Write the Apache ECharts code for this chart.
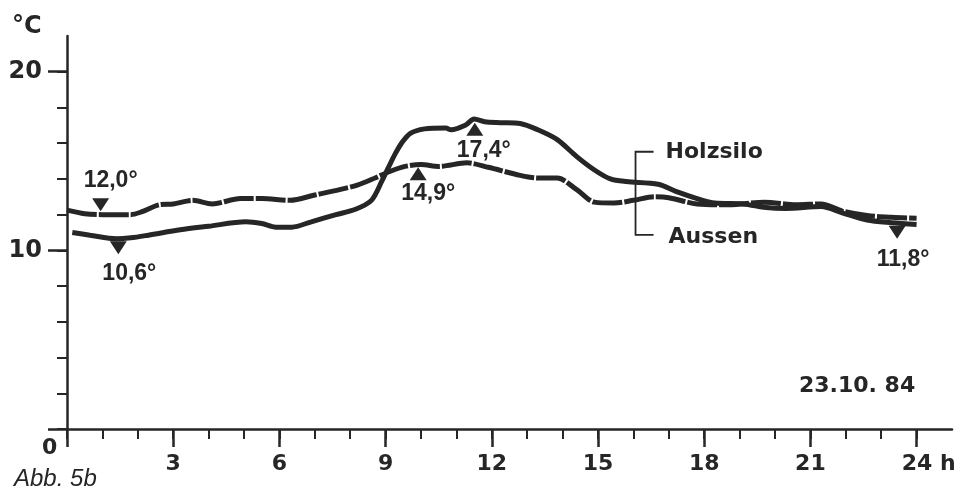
<!DOCTYPE html>
<html>
<head>
<meta charset="utf-8">
<script src="https://cdn.jsdelivr.net/npm/echarts@6/dist/echarts.min.js"></script>
<style>
  html, body { margin: 0; padding: 0; background: #fff; }
  #chart { width: 960px; height: 493px; }
</style>
</head>
<body>
<div id="chart"></div>
<script>
// Holzsilo (damped curve, drawn with small gaps)
const siloHours = [0.0, 0.5, 1.0, 1.8, 2.1, 2.6, 3.0, 3.55, 4.1, 4.9, 5.5, 6.3, 7.0, 7.7, 8.2, 8.7, 9.1, 9.55, 10.0, 10.5, 11.3, 11.9, 12.8, 13.3, 13.85, 14.4, 14.9, 15.45, 16.0, 16.6, 17.0, 17.8, 18.7, 19.7, 20.6, 21.3, 21.9, 22.6, 23.3, 24.0];
const siloTemps = [12.25, 12.05, 12.0, 12.0, 12.15, 12.55, 12.6, 12.8, 12.6, 12.9, 12.9, 12.8, 13.1, 13.4, 13.65, 14.05, 14.4, 14.7, 14.8, 14.7, 14.9, 14.65, 14.2, 14.05, 14.05, 13.4, 12.7, 12.65, 12.8, 13.0, 12.95, 12.6, 12.55, 12.7, 12.55, 12.6, 12.2, 11.95, 11.85, 11.8];

// Aussen (outside air)
const aussenHours = [0.15, 0.65, 1.4, 1.8, 2.3, 3.2, 4.0, 5.05, 5.5, 5.9, 6.35, 6.9, 7.6, 8.15, 8.6, 8.9, 9.07, 9.27, 9.45, 9.7, 10.1, 10.7, 10.85, 11.25, 11.5, 11.8, 12.25, 12.8, 13.3, 13.85, 14.4, 14.9, 15.35, 15.8, 16.7, 17.2, 17.8, 18.3, 19.1, 19.75, 20.3, 21.3, 21.9, 22.6, 23.3, 24.0];
const aussenTemps = [11.0, 10.85, 10.65, 10.7, 10.85, 11.15, 11.35, 11.6, 11.5, 11.3, 11.3, 11.6, 12.0, 12.3, 12.8, 13.9, 14.6, 15.4, 16.0, 16.55, 16.8, 16.85, 16.75, 17.0, 17.35, 17.2, 17.15, 17.1, 16.75, 16.2, 15.25, 14.5, 14.0, 13.85, 13.7, 13.3, 12.9, 12.65, 12.6, 12.4, 12.35, 12.45, 12.1, 11.7, 11.55, 11.45];

// marked extremes
const markHours = [0.95, 1.45, 9.92, 11.52, 23.45];
const markTemps = [12.0, 10.6, 14.9, 17.4, 11.8];
const markLabels = ['12,0°', '10,6°', '14,9°', '17,4°', '11,8°'];
const markDown = [true, true, false, false, true];
const markSymOffset = [-10, 8, 11, 11, 14];
const markLabelOffset = [[10, -24], [11, 26], [10, 20], [9, 21], [6, 27]];

// axis ticks
const hourTicks = [0, 1, 2, 3, 4, 5, 6, 7, 8, 9, 10, 11, 12, 13, 14, 15, 16, 17, 18, 19, 20, 21, 22, 23, 24];
const hourMajor = [0, 3, 6, 9, 12, 15, 18, 21, 24];
const hourLabels = [3, 6, 9, 12, 15, 18, 21, 24];
const tempTicks = [0, 2, 4, 6, 8, 10, 12, 14, 16, 18, 20];
const tempMajor = [0, 10, 20];
const tempLabels = [10, 20];

const INK = '#262626';
const BOLD = 'DejaVu Sans';

function zip(xs, ys) {
    return xs.map(function(x, i){ return [x, ys[i]]; });
}

var myChart = echarts.init(document.getElementById('chart'));

var markData = markHours.map(function(h, i){
    return {
        value: [h, markTemps[i]],
        symbolRotate: markDown[i] ? 180 : 0,
        symbolOffset: [0, markSymOffset[i]],
        label: {
            show: true,
            formatter: markLabels[i],
            offset: markLabelOffset[i]
        }
    };
});

var option = {
    backgroundColor: '#fff',
    animation: false,
    grid: { left: 67, right: 8, top: 36, bottom: 64 },
    xAxis: [
        {
            type: 'value', min: 0, max: 25, position: 'bottom',
            splitLine: { show: false },
            axisLine: { show: true, lineStyle: { color: INK, width: 2.5 } },
            axisTick: { show: true, customValues: hourTicks, length: 10, lineStyle: { color: INK, width: 2 } },
            axisLabel: {
                show: true, customValues: hourLabels, margin: 24,
                color: INK, fontFamily: BOLD, fontWeight: 'bold', fontSize: 22,
                formatter: function(v){ return v === 24 ? '{g|}24{h| h}' : String(v); },
                rich: {
                    g: { width: 24 },
                    h: { color: INK, fontFamily: BOLD, fontWeight: 'bold', fontSize: 22 }
                }
            }
        },
        {
            type: 'value', min: 0, max: 25, position: 'bottom',
            splitLine: { show: false },
            axisLine: { show: false },
            axisTick: { show: true, customValues: hourMajor, length: 18, lineStyle: { color: INK, width: 2.5 } },
            axisLabel: { show: false }
        }
    ],
    yAxis: [
        {
            type: 'value', min: 0, max: 22, position: 'left',
            splitLine: { show: false },
            axisLine: { show: true, lineStyle: { color: INK, width: 2.5 } },
            axisTick: { show: true, customValues: tempTicks, length: 10, lineStyle: { color: INK, width: 2 } },
            axisLabel: {
                show: true, customValues: tempLabels, margin: 25,
                color: INK, fontFamily: BOLD, fontWeight: 'bold', fontSize: 24
            }
        },
        {
            type: 'value', min: 0, max: 22, position: 'left',
            splitLine: { show: false },
            axisLine: { show: false },
            axisTick: { show: true, customValues: tempMajor, length: 19, lineStyle: { color: INK, width: 2.5 } },
            axisLabel: { show: false }
        }
    ],
    series: [
        {
            name: 'Holzsilo', type: 'line', smooth: 0.3, showSymbol: false,
            data: zip(siloHours, siloTemps),
            lineStyle: { color: INK, width: 5, type: [30, 2], cap: 'butt' },
            z: 3
        },
        {
            name: 'Aussen', type: 'line', smooth: 0.3, showSymbol: false,
            data: zip(aussenHours, aussenTemps),
            lineStyle: { color: INK, width: 5 },
            z: 3
        },
        {
            name: 'marks', type: 'scatter',
            symbol: 'triangle', symbolSize: [17, 13],
            itemStyle: { color: INK, opacity: 1 },
            label: {
                position: 'inside', color: INK,
                fontFamily: 'Liberation Sans', fontWeight: 'bold', fontSize: 23
            },
            data: markData,
            z: 4
        }
    ]
};

myChart.setOption(option);

// annotations placed through the axes' scales
var p = function(h, t){ return myChart.convertToPixel({ gridIndex: 0 }, [h, t]); };
var bTop = p(16.57, 15.52), bCorner = p(16.06, 15.52), bLow = p(16.06, 10.87), bEnd = p(16.57, 10.87);
var txt = function(x, y, s, extra){
    return {
        type: 'text', x: x, y: y,
        style: Object.assign({
            text: s, fill: INK, font: 'bold 22px "DejaVu Sans"',
            textVerticalAlign: 'middle'
        }, extra || {})
    };
};

myChart.setOption({
    graphic: [
        {
            type: 'polyline',
            shape: { points: [bTop, bCorner, bLow, bEnd] },
            style: { stroke: INK, lineWidth: 1.8, fill: null }
        },
        txt(bTop[0] + 12, bTop[1] + 1, 'Holzsilo'),
        txt(bEnd[0] + 15, bEnd[1] + 2, 'Aussen'),
        txt(12, 27, '°C', { font: 'bold 24px "DejaVu Sans"' }),
        txt(42, 448, '0'),
        txt(799, 386, '23.10. 84'),
        txt(14, 479, 'Abb. 5b', { font: 'italic 24px "Liberation Sans"' })
    ]
});
</script>
</body>
</html>
